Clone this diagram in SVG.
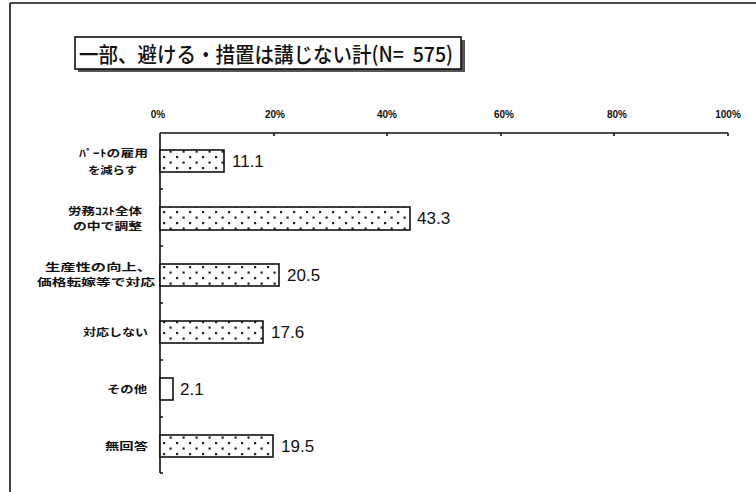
<svg xmlns="http://www.w3.org/2000/svg" width="756" height="492" viewBox="0 0 756 492">
<style>
.lbl{font-family:"Noto Sans CJK JP","Noto Sans CJK SC",sans-serif;font-size:10.2px;font-weight:bold;fill:#111;text-anchor:end}
.val{font-family:"Liberation Sans",Arial,sans-serif;font-size:17px;fill:#111}
.tick{font-family:"Liberation Sans",Arial,sans-serif;font-size:10px;font-weight:bold;fill:#111;text-anchor:middle}
.bar{fill:url(#dots);stroke:#111;stroke-width:1.6}
.ax{stroke:#111;stroke-width:1.6;fill:none}
</style>
<defs>
<pattern id="dots" x="160" y="0" width="13" height="11" patternUnits="userSpaceOnUse">
<rect width="13" height="11" fill="#fff"/>
<rect x="3" y="2" width="2.2" height="2.2" fill="#222"/>
<rect x="9.5" y="7.5" width="2.2" height="2.2" fill="#222"/>
</pattern>
</defs>
<rect width="756" height="492" fill="#fff"/>
<g id="frame">
<line x1="10" y1="3" x2="10" y2="492" class="ax"/>
<line x1="10" y1="3" x2="756" y2="3" class="ax"/>
</g>
<g id="title">
<rect x="78" y="40" width="387" height="32" fill="#555"/>
<rect x="75" y="37" width="386" height="32" fill="#fff" stroke="#111" stroke-width="1.6"/>
<text x="79" y="62" font-family="'Noto Sans CJK JP','Noto Sans CJK SC',sans-serif" font-size="21" font-weight="500" fill="#111" textLength="374" lengthAdjust="spacingAndGlyphs" xml:space="preserve">一部、避ける・措置は講じない計(N=  575)</text>
</g>
<g id="axis">
<line x1="160" y1="133" x2="728" y2="133" class="ax"/>
<line x1="160" y1="133" x2="160" y2="473" class="ax"/>
<path d="M274 133v3M387 133v3M501 133v3M614 133v3M728 133v3" class="ax"/>
<path d="M160 189h3M160 246h3M160 303h3M160 360h3M160 417h3M160 473h3" class="ax"/>
<text x="158" y="118" class="tick">0%</text>
<text x="275" y="118" class="tick">20%</text>
<text x="387" y="118" class="tick">40%</text>
<text x="504" y="118" class="tick">60%</text>
<text x="617" y="118" class="tick">80%</text>
<text x="728" y="118" class="tick">100%</text>
</g>
<g id="bar1">
<rect x="160" y="150" width="64" height="22" class="bar"/>
<text x="232" y="167" class="val">11.1</text>
<text x="148" y="157" class="lbl" textLength="69" lengthAdjust="spacingAndGlyphs">ﾊﾟｰﾄの雇用</text>
<text x="137" y="174" class="lbl" textLength="49" lengthAdjust="spacingAndGlyphs">を減らす</text>
</g>
<g id="bar2">
<rect x="160" y="207" width="250" height="23" class="bar"/>
<text x="142" y="215" class="lbl" textLength="74" lengthAdjust="spacingAndGlyphs">労務ｺｽﾄ全体</text>
<text x="142" y="230" class="lbl" textLength="69" lengthAdjust="spacingAndGlyphs">の中で調整</text>
<text x="417" y="224" class="val">43.3</text>
</g>
<g id="bar3">
<rect x="160" y="264" width="119" height="22" class="bar"/>
<text x="287" y="281" class="val">20.5</text>
<text x="152" y="271" class="lbl" textLength="107" lengthAdjust="spacingAndGlyphs">生産性の向上、</text>
<text x="155" y="286" class="lbl" textLength="118" lengthAdjust="spacingAndGlyphs">価格転嫁等で対応</text>
</g>
<g id="bar4">
<rect x="160" y="321" width="103" height="22" class="bar"/>
<text x="271" y="338" class="val">17.6</text>
<text x="148" y="336" class="lbl" textLength="65" lengthAdjust="spacingAndGlyphs">対応しない</text>
</g>
<g id="bar5">
<rect x="160" y="378" width="13" height="22" class="bar" style="fill:#fff"/>
<text x="180" y="395" class="val">2.1</text>
<text x="147" y="393" class="lbl" textLength="40" lengthAdjust="spacingAndGlyphs">その他</text>
</g>
<g id="bar6">
<rect x="160" y="435" width="113" height="22" class="bar"/>
<text x="281" y="452" class="val">19.5</text>
<text x="148" y="450" class="lbl" textLength="43" lengthAdjust="spacingAndGlyphs">無回答</text>
</g>
</svg>
